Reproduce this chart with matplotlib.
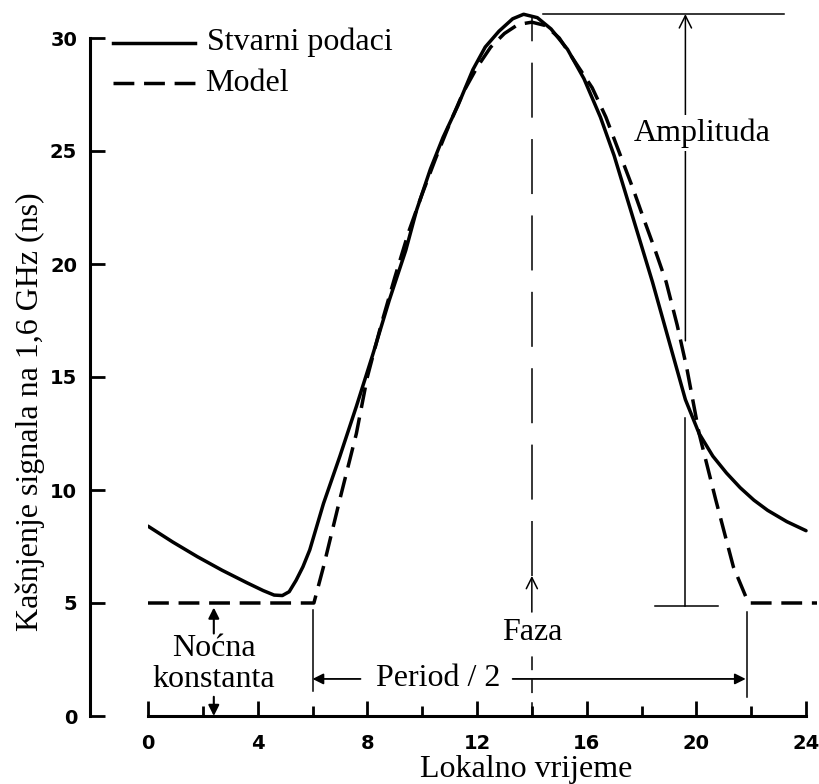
import matplotlib
matplotlib.use('Agg')
import matplotlib.pyplot as plt

# measured delay (solid curve)
real_x = [0, 0.9, 1.8, 2.7, 3.6, 4.2, 4.6, 4.9, 5.15, 5.4, 5.65, 5.9, 6.4, 7.0, 7.6, 8.2, 8.8,
          9.4, 9.8, 10.3, 10.76, 11.3, 11.85, 12.3, 12.8, 13.3, 13.7, 14.2, 14.7, 15.3,
          15.9, 16.5, 17.0, 17.5, 18.0, 18.4, 19.0, 19.6, 20.1, 20.6, 21.1, 21.6, 22.1,
          22.6, 23.3, 24.0]
real_y = [8.4, 7.7, 7.05, 6.45, 5.9, 5.55, 5.35, 5.33, 5.5, 6.0, 6.6, 7.35, 9.4, 11.5, 13.7,
          16.0, 18.4, 20.6, 22.4, 24.2, 25.6, 27.0, 28.6, 29.6, 30.3, 30.85, 31.05, 30.9, 30.4,
          29.5, 28.2, 26.5, 24.8, 22.8, 20.8, 19.2, 16.6, 14.0, 12.5, 11.5, 10.75, 10.1, 9.55,
          9.1, 8.6, 8.2]

# model (dashed curve)
model_x = [0, 6.05, 6.4, 7.0, 7.6, 8.0, 8.5, 9.0, 9.5, 10.0, 10.5, 11.0, 11.5, 12.0, 12.5,
           13.0, 13.5, 14.0, 14.5, 15.0, 15.6, 16.2, 16.7, 17.2, 17.7, 18.05, 18.5, 18.9,
           19.3, 19.65, 20.1, 20.7, 21.35, 21.9, 24.4]
model_y = [5.0, 5.0, 6.6, 9.6, 12.5, 15.0, 17.3, 19.4, 21.4, 23.1, 24.7, 26.2, 27.6, 28.7, 29.6,
           30.2, 30.6, 30.7, 30.55, 30.0, 28.9, 27.8, 26.5, 24.9, 23.3, 22.1, 20.6, 19.2,
           17.3, 15.4, 12.5, 9.6, 6.6, 5.0, 5.0]

x_ticks = [0, 4, 8, 12, 16, 20, 24]
x_minor = [2, 6, 10, 14, 18, 22]
y_ticks = [0, 5, 10, 15, 20, 25, 30]

serif = ['Liberation Serif', 'DejaVu Serif']
fs = 23

fig = plt.figure(figsize=(8.19, 7.84), dpi=100)
ax = fig.add_axes([148 / 819, 68 / 784, 669 / 819, 31.5 * 22.6 / 784])
ax.set_xlim(0, 24.4)
ax.set_ylim(0, 31.5)

ax.plot(real_x, real_y, color='k', lw=2.5, solid_capstyle='round', solid_joinstyle='round')
ax.plot(model_x, model_y, color='k', lw=2.5, dashes=(6, 2.8))

# spines
for s in ['top', 'right']:
    ax.spines[s].set_visible(False)
ax.spines['left'].set_position(('outward', 42))
ax.spines['left'].set_bounds(0, 30)
ax.spines['bottom'].set_bounds(0, 24)
ax.spines['left'].set_linewidth(2.2)
ax.spines['bottom'].set_linewidth(2.2)

ax.set_xticks(x_ticks)
ax.set_xticks(x_minor, minor=True)
ax.set_yticks(y_ticks)
ax.tick_params(axis='x', which='major', direction='in', length=11, width=2, pad=13,
               labelsize=14)
ax.tick_params(axis='x', which='minor', direction='in', length=7, width=2)
ax.tick_params(axis='y', direction='in', length=11, width=2, pad=9, labelsize=14)
for lab in ax.get_xticklabels() + ax.get_yticklabels():
    lab.set_fontweight('bold')

# legend drawn by hand
ax.plot([-1.28, 1.72], [29.8, 29.8], color='k', lw=2.5, clip_on=False)
ax.plot([-1.28, 1.72], [28.0, 28.0], color='k', lw=2.5, dashes=(6, 2.8), clip_on=False)
ax.text(2.15, 29.8, 'Stvarni podaci', family=serif, fontsize=fs, va='center')
ax.text(2.1, 28.0, 'Model', family=serif, fontsize=fs, va='center')

thin = 1.1

# amplitude
ax.plot([14.4, 23.2], [31.06, 31.06], color='k', lw=thin)
ax.plot([18.5, 20.8], [4.85, 4.85], color='k', lw=thin)
ax.plot([19.6, 19.6], [4.85, 13.2], color='k', lw=thin)
ax.annotate('', xy=(19.6, 31.06), xytext=(19.6, 16.6),
            arrowprops=dict(arrowstyle='->', color='k', lw=thin, mutation_scale=22,
                            shrinkA=0, shrinkB=0))
ax.text(20.2, 25.8, 'Amplituda', family=serif, fontsize=fs, ha='center', va='center',
        bbox=dict(facecolor='white', edgecolor='none', pad=2))

# phase
ax.plot([14, 14], [6.2, 31.0], color='k', lw=thin, dashes=(36, 14))
ax.annotate('', xy=(14, 6.2), xytext=(14, 4.6),
            arrowprops=dict(arrowstyle='->', color='k', lw=thin, mutation_scale=20,
                            shrinkA=0, shrinkB=0))
ax.text(14, 3.7, 'Faza', family=serif, fontsize=fs, ha='center', va='center')
ax.plot([14, 14], [0, 2.7], color='k', lw=thin, dashes=(9, 6))

# night constant
ax.annotate('', xy=(2.4, 4.8), xytext=(2.4, 3.65),
            arrowprops=dict(arrowstyle='-|>', color='k', lw=1.5, mutation_scale=16,
                            shrinkA=0, shrinkB=0))
ax.annotate('', xy=(2.4, 0.0), xytext=(2.4, 0.85),
            arrowprops=dict(arrowstyle='-|>', color='k', lw=1.5, mutation_scale=16,
                            shrinkA=0, shrinkB=0))
ax.text(2.4, 3.0, 'Noćna', family=serif, fontsize=fs, ha='center', va='center')
ax.text(2.4, 1.6, 'konstanta', family=serif, fontsize=fs, ha='center', va='center')

# half period
ax.plot([6.0, 6.0], [1.1, 4.7], color='k', lw=thin)
ax.plot([21.85, 21.85], [0.85, 4.6], color='k', lw=thin)
ax.annotate('', xy=(6.0, 1.64), xytext=(7.75, 1.64),
            arrowprops=dict(arrowstyle='-|>', color='k', lw=1.3, mutation_scale=16,
                            shrinkA=0, shrinkB=0))
ax.annotate('', xy=(21.8, 1.64), xytext=(13.3, 1.64),
            arrowprops=dict(arrowstyle='-|>', color='k', lw=1.3, mutation_scale=16,
                            shrinkA=0, shrinkB=0))
ax.text(10.6, 1.64, 'Period / 2', family=serif, fontsize=fs, ha='center', va='center')

fig.text(526 / 819, 1 - 770 / 784, 'Lokalno vrijeme', family=serif, fontsize=fs,
         ha='center', va='center')
fig.text(30 / 819, 1 - 412 / 784, 'Kašnjenje signala na 1,6 GHz (ns)', family=serif,
         fontsize=fs, rotation=90, ha='center', va='center')

fig.savefig('out.png', dpi=100)
